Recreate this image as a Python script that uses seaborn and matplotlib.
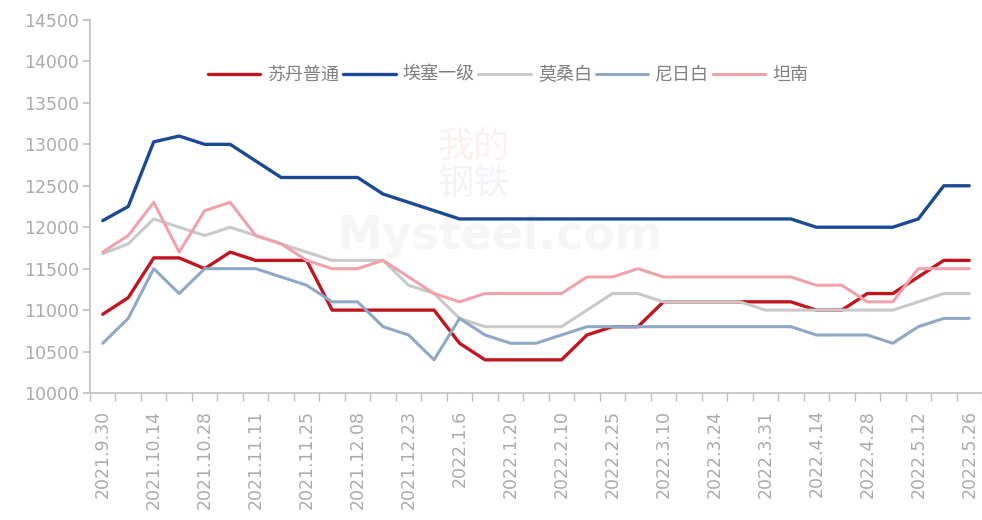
import numpy as np
import pandas as pd
import matplotlib
matplotlib.use('Agg')
import matplotlib.pyplot as plt
import seaborn as sns

# dữ liệu giá theo tuần
dates = ['2021.9.30', '2021.10.8', '2021.10.14', '2021.10.21', '2021.10.28', '2021.11.4',
         '2021.11.11', '2021.11.18', '2021.11.25', '2021.12.02', '2021.12.08', '2021.12.16',
         '2021.12.23', '2021.12.30', '2022.1.6', '2022.1.13', '2022.1.20', '2022.1.27',
         '2022.2.10', '2022.2.17', '2022.2.25', '2022.3.3', '2022.3.10', '2022.3.17',
         '2022.3.24', '2022.3.28', '2022.3.31', '2022.4.7', '2022.4.14', '2022.4.21',
         '2022.4.28', '2022.5.5', '2022.5.12', '2022.5.19', '2022.5.26']

sudan = [10950, 11150, 11630, 11630, 11500, 11700, 11600, 11600, 11600, 11000, 11000, 11000,
         11000, 11000, 10600, 10400, 10400, 10400, 10400, 10700, 10800, 10800, 11100, 11100,
         11100, 11100, 11100, 11100, 11000, 11000, 11200, 11200, 11400, 11600, 11600]
ethiopia = [12080, 12250, 13030, 13100, 13000, 13000, 12800, 12600, 12600, 12600, 12600, 12400,
            12300, 12200, 12100, 12100, 12100, 12100, 12100, 12100, 12100, 12100, 12100, 12100,
            12100, 12100, 12100, 12100, 12000, 12000, 12000, 12000, 12100, 12500, 12500]
mozambique = [11680, 11800, 12100, 12000, 11900, 12000, 11900, 11800, 11700, 11600, 11600, 11600,
              11300, 11200, 10900, 10800, 10800, 10800, 10800, 11000, 11200, 11200, 11100, 11100,
              11100, 11100, 11000, 11000, 11000, 11000, 11000, 11000, 11100, 11200, 11200]
niger = [10600, 10900, 11500, 11200, 11500, 11500, 11500, 11400, 11300, 11100, 11100, 10800,
         10700, 10400, 10900, 10700, 10600, 10600, 10700, 10800, 10800, 10800, 10800, 10800,
         10800, 10800, 10800, 10800, 10700, 10700, 10700, 10600, 10800, 10900, 10900]
tanzania = [11700, 11900, 12300, 11700, 12200, 12300, 11900, 11800, 11600, 11500, 11500, 11600,
            11400, 11200, 11100, 11200, 11200, 11200, 11200, 11400, 11400, 11500, 11400, 11400,
            11400, 11400, 11400, 11400, 11300, 11300, 11100, 11100, 11500, 11500, 11500]

names = ['苏丹普通', '埃塞一级', '莫桑白', '尼日白', '坦南']
colors = ['#C0161F', '#1B4A92', '#C9C9C9', '#8FA8C6', '#F0A2AC']
widths = [2.4, 2.4, 2.2, 2.2, 2.2]

df = pd.DataFrame({'date': dates * 5,
                   'price': sudan + ethiopia + mozambique + niger + tanzania,
                   'name': np.repeat(names, len(dates))})

sns.set_theme(style='white')
plt.rcParams['font.family'] = ['Noto Sans CJK SC', 'DejaVu Sans']

fig = plt.figure(figsize=(9.82, 5.2), dpi=100)
ax = fig.add_axes([90 / 982, 127 / 520, 892 / 982, 373 / 520])

# watermark mờ
ax.text(0.46, 0.42, 'Mysteel.com', transform=ax.transAxes, ha='center', va='center',
        fontsize=33, fontweight='bold', color='#F6F6F8', family='DejaVu Sans', zorder=0)
ax.text(0.43, 0.66, '我的', transform=ax.transAxes, ha='center', va='center',
        fontsize=26, color='#FCF1F1', zorder=0)
ax.text(0.43, 0.56, '钢铁', transform=ax.transAxes, ha='center', va='center',
        fontsize=26, color='#F3F4F8', zorder=0)

for n, c, w in zip(names, colors, widths):
    sub = df[df['name'] == n]
    sns.lineplot(data=sub, x='date', y='price', color=c, linewidth=w, label=n, ax=ax,
                 sort=False, zorder=3)

ax.set_xlim(-0.5, len(dates) - 0.5)
ax.set_ylim(10000, 14500)
ax.set_yticks(np.arange(10000, 14501, 500))
ax.set_xticks(range(0, len(dates), 2))
ax.set_xticklabels(dates[::2], rotation=90)
ax.set_xticks(np.arange(-0.5, len(dates), 1), minor=True)
ax.set_xlabel('')
ax.set_ylabel('')

for s in ['top', 'right']:
    ax.spines[s].set_visible(False)
for s in ['left', 'bottom']:
    ax.spines[s].set_color('#BFBFBF')
    ax.spines[s].set_linewidth(1.2)

ax.tick_params(axis='y', left=True, length=5, color='#BFBFBF', labelsize=12.5,
               labelcolor='#ABABAB', pad=3)
ax.tick_params(axis='x', which='major', bottom=False, length=0, labelsize=12.5,
               labelcolor='#ABABAB', pad=12)
ax.tick_params(axis='x', which='minor', bottom=True, length=6, color='#BFBFBF')
for t in ax.get_yticklabels() + ax.get_xticklabels():
    t.set_family('DejaVu Sans')

ax.legend(loc='center left', bbox_to_anchor=(208 / 982, 1 - 75 / 520),
          bbox_transform=fig.transFigure, ncol=5, frameon=False, fontsize=13,
          handlelength=2.9, handletextpad=0.4, columnspacing=0.2, borderpad=0,
          borderaxespad=0, labelcolor='#7F7F7F')

fig.savefig('out.png', dpi=100)
